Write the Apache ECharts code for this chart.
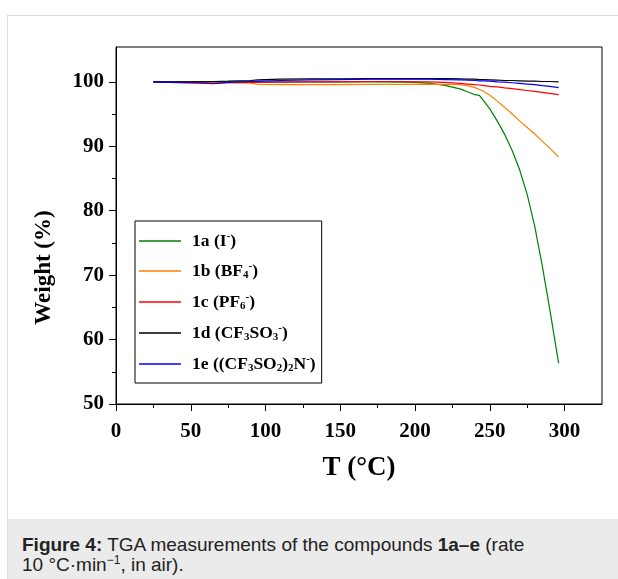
<!DOCTYPE html>
<html>
<head>
<meta charset="utf-8">
<script src="https://cdn.jsdelivr.net/npm/echarts@6/dist/echarts.min.js"></script>
<style>
  html, body { margin: 0; padding: 0; background: #fff; }
  .card {
    position: absolute; left: 7px; top: 15px; width: 640px; height: 600px;
    border-top: 1px solid #dcdcdc; border-left: 1px solid #dcdcdc;
  }
  .caption {
    position: absolute; left: 8px; top: 519px; width: 610px; height: 60px;
    background: #ebebeb; font-family: "Liberation Sans", Arial, sans-serif;
    font-size: 19px; line-height: 20px; color: #222; box-sizing: border-box;
    padding: 16px 0 0 14px; white-space: nowrap;
  }
  .caption sup { font-size: 12px; line-height: 0; }
  #main { position: absolute; left: 0; top: 0; width: 618px; height: 579px; }
</style>
</head>
<body>
<div class="card"></div>
<div class="caption"><b>Figure 4:</b> TGA measurements of the compounds <b>1a–e</b> (rate<br>10 °C·min<sup>−1</sup>, in air).</div>
<div id="main"></div>
<script>
  // temperature grid (°C)
  var temps = [25, 40, 55, 65, 75, 90, 95, 110, 130, 150, 170, 190, 200, 210, 220,
    230, 235, 240, 243, 245, 250, 255, 260, 265, 270, 275, 280, 285, 290, 296];

  // weight (%) per compound
  var w1a = [100, 100, 100.05, 100, 100, 100, 100, 100, 100, 100, 100, 99.95, 99.9, 99.75, 99.45,
    98.9, 98.45, 98.0, 97.9, 97.3, 95.8, 93.9, 91.8, 89.3, 86.3, 82.5, 77.6, 71.5, 64.8, 56.3];
  var w1b = [100, 99.9, 99.9, 99.85, 99.85, 99.8, 99.6, 99.55, 99.55, 99.55, 99.6, 99.6, 99.6, 99.6, 99.6,
    99.55, 99.4, 99.1, 98.8, 98.6, 97.9, 97.0, 96.0, 95.0, 93.9, 92.9, 91.9, 90.8, 89.7, 88.3];
  var w1c = [100, 99.85, 99.8, 99.8, 99.85, 99.9, 99.9, 99.95, 100, 100, 100.05, 100.05, 100, 100, 99.9,
    99.75, 99.65, 99.55, 99.5, 99.45, 99.3, 99.2, 99.05, 98.95, 98.8, 98.65, 98.5, 98.35, 98.2, 98.0];
  var w1d = [100, 100, 100, 100.05, 100.1, 100.2, 100.3, 100.4, 100.45, 100.45, 100.5, 100.5, 100.5, 100.5, 100.5,
    100.45, 100.4, 100.4, 100.35, 100.35, 100.3, 100.25, 100.2, 100.2, 100.15, 100.1, 100.1, 100.05, 100.05, 100.0];
  var w1e = [100, 99.9, 99.85, 99.7, 99.9, 100.05, 100.1, 100.2, 100.3, 100.35, 100.4, 100.4, 100.4, 100.4, 100.35,
    100.3, 100.25, 100.2, 100.15, 100.15, 100.1, 100.0, 99.95, 99.85, 99.75, 99.65, 99.55, 99.4, 99.3, 99.1];

  var names = ["1a", "1b", "1c", "1d", "1e"];
  var legendText = {
    "1a": "{t|1a (I}{sup|-}{t|)}",
    "1b": "{t|1b (BF}{sub|4}{sup|-}{t|)}",
    "1c": "{t|1c (PF}{sub|6}{sup|-}{t|)}",
    "1d": "{t|1d (CF}{sub|3}{t|SO}{sub|3}{sup|-}{t|)}",
    "1e": "{t|1e ((CF}{sub|3}{t|SO}{sub|2}{t|)}{sub|2}{t|N}{sup|-}{t|)}"
  };
  var colors = ["#008000", "#ff8000", "#ff0000", "#000000", "#0000ff"];
  var weights = [w1a, w1b, w1c, w1d, w1e];

  var xMajor = [0, 50, 100, 150, 200, 250, 300];
  var xMinor = [25, 75, 125, 175, 225, 275];
  var yMajor = [50, 60, 70, 80, 90, 100];
  var yMinor = [55, 65, 75, 85, 95];

  var serif = "'Liberation Serif', 'Times New Roman', serif";

  function pairs(ys) {
    return temps.map(function (t, i) { return [t, ys[i]]; });
  }

  var myChart = echarts.init(document.getElementById("main"), null, { renderer: "canvas" });

  var labelStyle = { color: "#000", fontFamily: serif, fontWeight: "bold", fontSize: 21 };

  var option = {
    animation: false,
    grid: {
      left: 116, top: 47, right: 16, bottom: 175,
      show: true, borderColor: "#000", borderWidth: 1, backgroundColor: "transparent"
    },
    legend: {
      orient: "vertical",
      left: 135, top: 221,
      padding: [10, 6, 9, 4],
      icon: "rect",
      itemWidth: 42, itemHeight: 1.3, itemGap: 11,
      borderColor: "#000", borderWidth: 1,
      data: names,
      formatter: function (n) { return legendText[n]; },
      textStyle: {
        padding: [0, 0, 0, 6],
        rich: {
          t: { fontFamily: serif, fontWeight: "bold", fontSize: 17.5, color: "#000", lineHeight: 20 },
          sub: { fontFamily: serif, fontWeight: "bold", fontSize: 11, color: "#000", lineHeight: 9, verticalAlign: "bottom" },
          sup: { fontFamily: serif, fontWeight: "bold", fontSize: 11, color: "#000", lineHeight: 9, verticalAlign: "top" }
        }
      }
    },
    xAxis: [{
      type: "value", min: 0, max: 325,
      name: "T (°C)", nameLocation: "middle", nameGap: 51,
      nameTextStyle: { color: "#000", fontFamily: serif, fontWeight: "bold", fontSize: 27 },
      axisLine: { lineStyle: { color: "#000", width: 1 } },
      axisTick: { show: true, inside: false, length: 7, customValues: xMajor, lineStyle: { color: "#000" } },
      axisLabel: Object.assign({ customValues: xMajor, margin: 17 }, labelStyle),
      splitLine: { show: false }
    }, {
      type: "value", min: 0, max: 325, position: "bottom",
      axisLine: { show: false },
      axisTick: { show: true, inside: false, length: 4, customValues: xMinor, lineStyle: { color: "#000" } },
      axisLabel: { show: false },
      splitLine: { show: false }
    }],
    yAxis: [{
      type: "value", min: 50, max: 105.4,
      name: "Weight (%)", nameLocation: "middle", nameGap: 60,
      nameTextStyle: { color: "#000", fontFamily: serif, fontWeight: "bold", fontSize: 23, padding: [0, 84, 0, 0] },
      axisLine: { show: true, lineStyle: { color: "#000", width: 1 } },
      axisTick: { show: true, inside: false, length: 7, customValues: yMajor, lineStyle: { color: "#000" } },
      axisLabel: Object.assign({ customValues: yMajor, margin: 12 }, labelStyle),
      splitLine: { show: false }
    }, {
      type: "value", min: 50, max: 105.4, position: "left",
      axisLine: { show: false },
      axisTick: { show: true, inside: false, length: 4, customValues: yMinor, lineStyle: { color: "#000" } },
      axisLabel: { show: false },
      splitLine: { show: false }
    }],
    series: names.map(function (n, i) {
      return {
        name: n, type: "line", symbol: "none", smooth: false,
        xAxisIndex: 0, yAxisIndex: 0,
        data: pairs(weights[i]),
        lineStyle: { color: colors[i], width: 1.2 },
        itemStyle: { color: colors[i] }
      };
    })
  };

  option && myChart.setOption(option);
</script>
</body>
</html>
